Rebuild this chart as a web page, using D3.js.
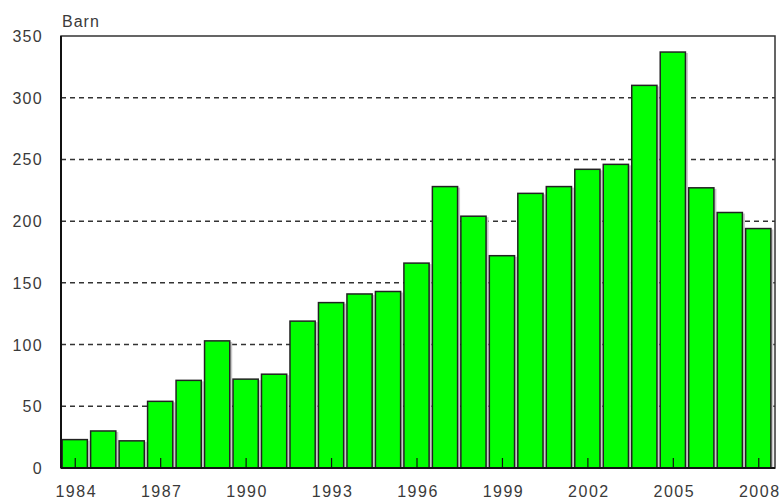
<!DOCTYPE html>
<html><head><meta charset="utf-8">
<script src="https://cdn.jsdelivr.net/npm/d3@7"></script>
<style>
body{margin:0;background:#fff;}
text{font-family:"Liberation Sans",Arial,sans-serif;fill:#3a3a3a;}
</style></head>
<body><svg id="c" width="780" height="501"></svg>
<script>
const years = ["1984","1985","1986","1987","1988","1989","1990","1991","1992","1993","1994","1995","1996","1997","1998","1999","2000","2001","2002","2003","2004","2005","2006","2007","2008"];
const values = [23,30,22,54,71,103,72,76,119,134,141,143,166,228,204,172,222.5,228,242,246,310,337,227,207,194];
const yTicks = [0,50,100,150,200,250,300,350];
const xTickLabels = ["1984","1987","1990","1993","1996","1999","2002","2005","2008"];
const unitLabel = "Barn";

const svg = d3.select("#c");
const L = 61, R = 775, T = 36, B = 468;
const x = d3.scaleBand().domain(years).range([L, R - 2]).paddingInner(0.08).paddingOuter(0.04);
const y = d3.scaleLinear().domain([0, 350]).range([B, T]);

// grid
svg.append("g").selectAll("line").data(yTicks.filter(d => d > 0 && d < 350)).join("line")
  .attr("x1", L).attr("x2", R).attr("y1", d => y(d)).attr("y2", d => y(d))
  .attr("stroke", "#333").attr("stroke-width", 1.5).attr("stroke-dasharray", "5,4");

// bar shadows
svg.append("g").selectAll("rect").data(values).join("rect")
  .attr("x", (d, i) => x(years[i]) + 1.5).attr("y", d => y(d) + 1)
  .attr("width", x.bandwidth()).attr("height", d => B - y(d) - 1)
  .attr("fill", "#c8c8c8");
// bars
svg.append("g").selectAll("rect").data(values).join("rect")
  .attr("x", (d, i) => x(years[i])).attr("y", d => y(d))
  .attr("width", x.bandwidth() - 1).attr("height", d => B - y(d))
  .attr("fill", "#00ff00").attr("stroke", "#222").attr("stroke-width", 1.5);

// x ticks (inward)
svg.append("g").selectAll("line").data(xTickLabels).join("line")
  .attr("x1", d => x(d) + x.bandwidth() / 2).attr("x2", d => x(d) + x.bandwidth() / 2)
  .attr("y1", B).attr("y2", B - 10).attr("stroke", "#111").attr("stroke-width", 1.2);

// frame
svg.append("rect").attr("x", L).attr("y", T).attr("width", R - L).attr("height", B - T)
  .attr("fill", "none").attr("stroke", "#333").attr("stroke-width", 1.5);
svg.append("line").attr("x1", L).attr("x2", L).attr("y1", T).attr("y2", B).attr("stroke", "#111").attr("stroke-width", 2);
svg.append("line").attr("x1", L).attr("x2", R).attr("y1", B).attr("y2", B).attr("stroke", "#111").attr("stroke-width", 2);

// y labels
svg.append("g").selectAll("text").data(yTicks).join("text")
  .attr("x", 43).attr("y", d => y(d) + 6).attr("text-anchor", "end")
  .attr("font-size", 16).attr("letter-spacing", 1.3).text(d => d);

// x labels
svg.append("g").selectAll("text").data(xTickLabels).join("text")
  .attr("x", d => x(d) + x.bandwidth() / 2 + 1).attr("y", 497).attr("text-anchor", "middle")
  .attr("font-size", 16).attr("letter-spacing", 1.5).text(d => d);

svg.append("text").attr("x", 62).attr("y", 27).attr("font-size", 16).attr("letter-spacing", 1).text(unitLabel);
</script></body></html>
